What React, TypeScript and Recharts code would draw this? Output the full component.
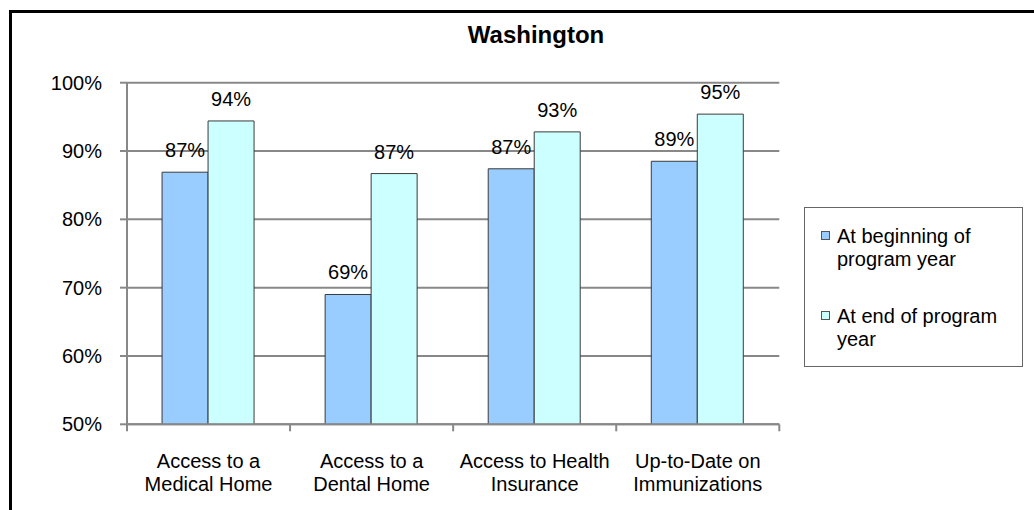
import { BarChart, Bar, XAxis, YAxis, CartesianGrid, Legend, LabelList } from "recharts";

// categories (line breaks as in the original axis labels)
const categories = [
  "Access to a\nMedical Home",
  "Access to a\nDental Home",
  "Access to Health\nInsurance",
  "Up-to-Date on\nImmunizations",
];
const beginValues = [86.9, 69.0, 87.4, 88.5];
const endValues = [94.4, 86.7, 92.8, 95.4];
const seriesNames = ["At beginning of program year", "At end of program year"];
const seriesColors = ["#99CCFF", "#CCFFFF"];
const yTicks = [50, 60, 70, 80, 90, 100];

const data = categories.map((name, i) => ({
  name,
  begin: beginValues[i],
  end: endValues[i],
}));

const FONT = "'Liberation Sans', Arial, sans-serif";
const GRID = "#888888";

// category label plus Excel-style tick marks between categories
function CategoryTick(props: any) {
  const { x, y, payload, width, index } = props;
  const lines = String(payload.value).split("\n");
  const band = width / categories.length;
  const left = x - band / 2;
  const isLast = index === categories.length - 1;
  return (
    <g>
      <line x1={left} x2={left} y1={y} y2={y + 7} stroke={GRID} strokeWidth={2} />
      {isLast && (
        <line x1={left + band} x2={left + band} y1={y} y2={y + 7} stroke={GRID} strokeWidth={2} />
      )}
      <text x={x} y={y} textAnchor="middle" fontSize={20} fill="#000" fontFamily={FONT}>
        {lines.map((l, i) => (
          <tspan key={i} x={x} dy={i === 0 ? 43.5 : 23.4}>
            {l}
          </tspan>
        ))}
      </text>
    </g>
  );
}

function LegendBox(props: any) {
  const { payload } = props;
  return (
    <div
      style={{
        width: 219,
        height: 160,
        boxSizing: "border-box",
        border: "1px solid #666",
        background: "#fff",
        paddingTop: 17,
        fontFamily: FONT,
        fontSize: 20,
        lineHeight: "23.4px",
        color: "#000",
      }}
    >
      {(payload || []).map((p: any, i: number) => (
        <div key={i} style={{ display: "flex", marginBottom: i === 0 ? 33 : 0 }}>
          <div
            style={{
              width: 9,
              height: 9,
              boxSizing: "border-box",
              marginLeft: 16,
              marginTop: 6,
              marginRight: 7,
              background: p.color,
              border: "1px solid #555",
              flex: "none",
            }}
          />
          <div style={{ width: 180 }}>{p.value}</div>
        </div>
      ))}
    </div>
  );
}

export default function App() {
  return (
    <div
      style={{
        position: "fixed",
        left: 0,
        top: 0,
        width: 1034,
        height: 510,
        overflow: "hidden",
        background: "#fff",
      }}
    >
      <div
        style={{
          position: "absolute",
          left: 9,
          top: 10,
          width: 1100,
          height: 600,
          border: "3px solid #000",
        }}
      />
      <div
        style={{
          position: "absolute",
          left: 0,
          top: 23,
          width: 1072,
          textAlign: "center",
          fontFamily: FONT,
          fontWeight: "bold",
          fontSize: 24,
          lineHeight: "24px",
        }}
      >
        Washington
      </div>
      <div style={{ position: "absolute", left: 0, top: 0 }}>
        <BarChart
          width={1034}
          height={510}
          data={data}
          margin={{ top: 82.7, right: 254.7, bottom: 0, left: 0 }}
          barCategoryGap="21.5%"
          barGap={0}
          style={{ fontFamily: FONT }}
        >
          <CartesianGrid vertical={false} stroke={GRID} strokeWidth={2} />
          <XAxis
            dataKey="name"
            height={85.7}
            tickLine={false}
            tickSize={0}
            tickMargin={0}
            axisLine={{ stroke: GRID, strokeWidth: 2 }}
            tick={<CategoryTick />}
            interval={0}
          />
          <YAxis
            width={127}
            domain={[50, 100]}
            ticks={yTicks}
            tickFormatter={(v: number) => `${v}%`}
            tickSize={7}
            tickMargin={18}
            tick={{ fontSize: 20, fill: "#000", fontFamily: FONT }}
            axisLine={{ stroke: GRID, strokeWidth: 2 }}
            tickLine={{ stroke: GRID, strokeWidth: 2 }}
            allowDataOverflow
          />
          <Legend
            layout="horizontal"
            verticalAlign="middle"
            align="center"
            wrapperStyle={{ left: 804, top: 207, width: 219, height: 160 }}
            content={<LegendBox />}
          />
          <Bar
            dataKey="begin"
            name={seriesNames[0]}
            fill={seriesColors[0]}
            stroke="#3a3a3a"
            strokeWidth={1}
            isAnimationActive={false}
          >
            <LabelList
              dataKey="begin"
              position="top"
              offset={15}
              formatter={(v: any) => `${Math.round(Number(v))}%`}
              style={{ fontSize: 20, fill: "#000", fontFamily: FONT }}
            />
          </Bar>
          <Bar
            dataKey="end"
            name={seriesNames[1]}
            fill={seriesColors[1]}
            stroke="#3a3a3a"
            strokeWidth={1}
            isAnimationActive={false}
          >
            <LabelList
              dataKey="end"
              position="top"
              offset={15}
              formatter={(v: any) => `${Math.round(Number(v))}%`}
              style={{ fontSize: 20, fill: "#000", fontFamily: FONT }}
            />
          </Bar>
        </BarChart>
      </div>
    </div>
  );
}
